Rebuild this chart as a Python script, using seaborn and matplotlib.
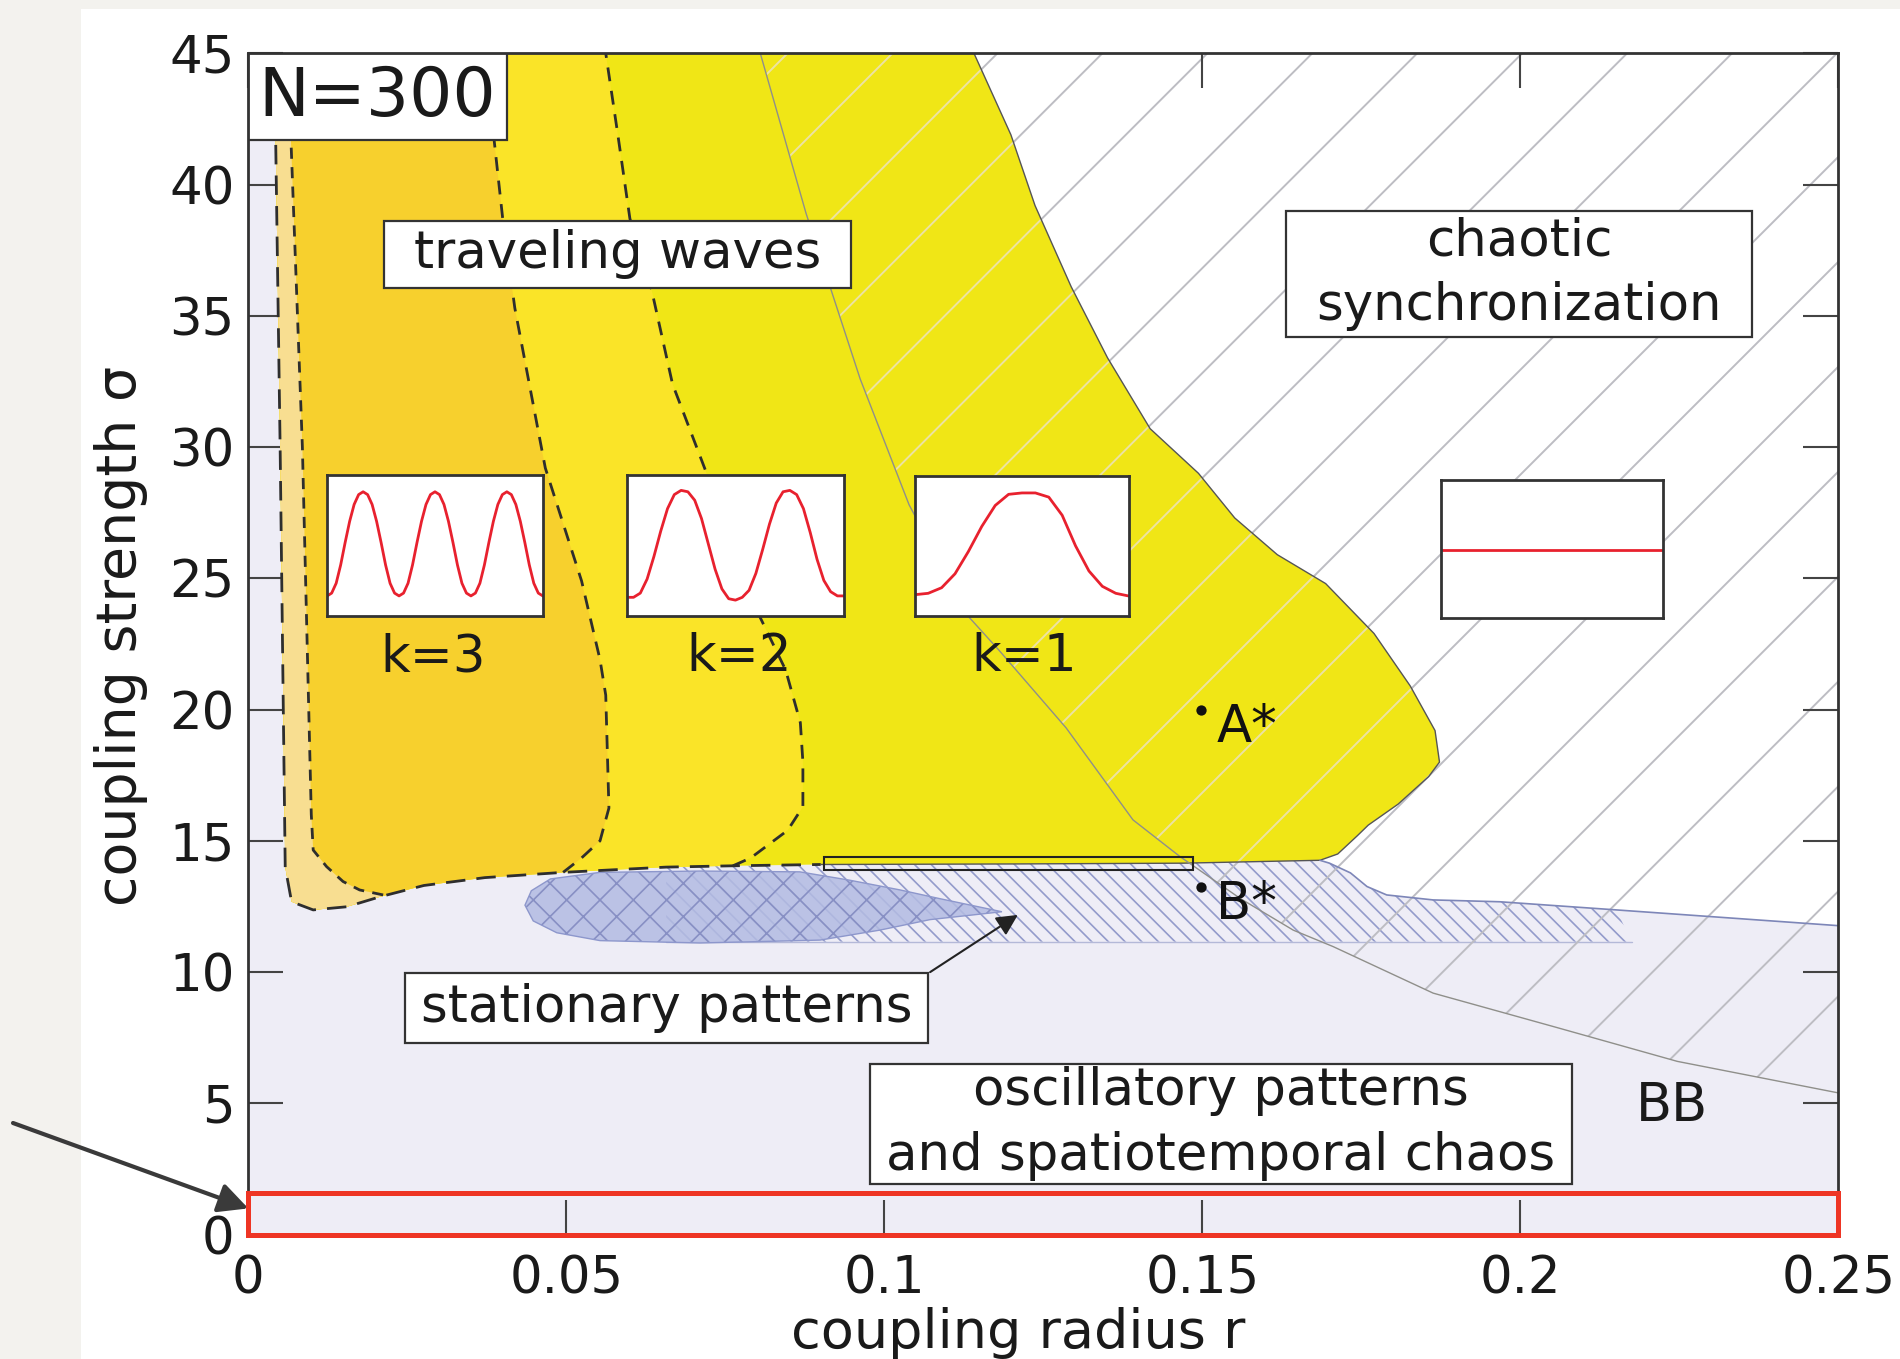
import numpy as np
import matplotlib
matplotlib.use("Agg")
import matplotlib.pyplot as plt
import seaborn as sns
from matplotlib.patches import Polygon, Rectangle
from matplotlib.collections import LineCollection

# -----------------------------------------------------------
# Region boundaries: (coupling radius r, coupling strength sigma)
# -----------------------------------------------------------
# left edge of the wave region (long dashes)
left_r = [0.0043, 0.0043, 0.0050, 0.0055, 0.0058, 0.0068]
left_s = [45.0, 41.7, 30.0, 20.0, 14.0, 12.68]
# lower edge of the wave region
bottom_r = [0.0068, 0.0102, 0.0155, 0.0207, 0.0276, 0.0372, 0.0495,
            0.0657, 0.0762, 0.09, 0.12, 0.147, 0.1685]
bottom_s = [12.68, 12.37, 12.49, 12.87, 13.3, 13.6, 13.8,
            14.0, 14.05, 14.1, 14.12, 14.15, 14.26]
# right edge of the k=1 region
right_r = [0.1685, 0.1713, 0.1744, 0.1761, 0.1808, 0.1856, 0.1873, 0.1866,
           0.1827, 0.177, 0.1694, 0.1618, 0.1551, 0.1494, 0.1418, 0.1351,
           0.1294, 0.1237, 0.1199, 0.1141]
right_s = [14.26, 14.5, 15.2, 15.6, 16.4, 17.45, 18.0, 19.2,
           20.9, 22.9, 24.8, 25.9, 27.3, 29.0, 30.7, 33.4,
           36.1, 39.2, 41.9, 45.0]
# k=2 / k=1 border
k21_r = [0.0762, 0.079, 0.0848, 0.0872, 0.0872, 0.0868, 0.0845, 0.0805,
         0.0719, 0.0667, 0.0634, 0.060, 0.0581, 0.0562]
k21_s = [14.05, 14.35, 15.4, 16.3, 18.0, 19.5, 21.5, 23.5,
         29.1, 32.4, 36.0, 38.7, 41.9, 45.0]
# k=3 / k=2 border
k32_r = [0.0495, 0.0524, 0.0553, 0.0567, 0.0562, 0.0553, 0.0524, 0.0467,
         0.0419, 0.040, 0.0386, 0.0375]
k32_s = [13.8, 14.35, 15.0, 16.25, 20.55, 21.9, 24.9, 29.2,
         35.3, 38.7, 41.8, 45.0]
# short-dash border of the pale strip
sd_r = [0.0212, 0.0175, 0.0149, 0.0123, 0.0102, 0.0099, 0.0085, 0.0067, 0.0065]
sd_s = [12.94, 13.13, 13.45, 14.02, 14.65, 16.0, 30.0, 41.7, 45.0]
# thin line bounding the synchronized (hatched) region, ends as BB line
thin_r = [0.0805, 0.0877, 0.0962, 0.1039, 0.1134, 0.118, 0.1286, 0.1391,
          0.1465, 0.1560, 0.1643, 0.1706, 0.1863, 0.2056, 0.2247, 0.25]
thin_s = [45.0, 38.9, 32.6, 27.8, 23.5, 22.27, 19.3, 15.8,
          14.4, 12.8, 11.6, 10.97, 9.2, 7.9, 6.6, 5.4]
# lower edge of the chaotic synchronization region
low_r = [0.1685, 0.170, 0.1733, 0.1759, 0.179, 0.1863, 0.1968, 0.2151, 0.25]
low_s = [14.26, 14.15, 13.78, 13.26, 12.94, 12.75, 12.68, 12.37, 11.77]
# stationary band, lower corners
band_low_r = [0.2175, 0.0657]
band_low_s = [11.16, 11.16]
# stationary patterns blob
ell_r = [0.0435, 0.0445, 0.0475, 0.0553, 0.071, 0.0867, 0.0946, 0.1025, 0.1087,
         0.1185, 0.1072, 0.0993, 0.0899, 0.071, 0.0553, 0.0485, 0.0448]
ell_s = [12.55, 13.1, 13.55, 13.8, 13.85, 13.82, 13.5, 13.13, 12.8,
         12.3, 12.0, 11.6, 11.22, 11.11, 11.2, 11.5, 11.95]

# marked points
star_r = [0.1498, 0.1498]
star_s = [20.0, 13.25]
star_lbl = ["A*", "B*"]

# inset profiles (normalised, read at equal spacing)
k3_y = [0.14, 0.16, 0.23, 0.36, 0.52, 0.67, 0.79, 0.86, 0.88, 0.86, 0.79, 0.67, 0.52, 0.36, 0.23, 0.16,
        0.14, 0.16, 0.23, 0.36, 0.52, 0.67, 0.79, 0.86, 0.88, 0.86, 0.79, 0.67, 0.52, 0.36, 0.23, 0.16,
        0.14, 0.16, 0.23, 0.36, 0.52, 0.67, 0.79, 0.86, 0.88, 0.86, 0.79, 0.67, 0.52, 0.36, 0.23, 0.16,
        0.14]
k2_y = [0.13, 0.13, 0.16, 0.26, 0.42, 0.60, 0.76, 0.86, 0.89, 0.88, 0.82, 0.69, 0.51, 0.33, 0.19, 0.12,
        0.11, 0.13, 0.18, 0.30, 0.47, 0.65, 0.80, 0.88, 0.89, 0.86, 0.76, 0.59, 0.40, 0.25, 0.17, 0.14,
        0.14]
k1_y = [0.15, 0.16, 0.20, 0.30, 0.46, 0.64, 0.79, 0.87, 0.88, 0.88, 0.85, 0.72, 0.50, 0.32, 0.21, 0.16,
        0.14]
sync_y = [0.49, 0.49]

xticks = [0, 0.05, 0.1, 0.15, 0.2, 0.25]
xtick_lbl = ["0", "0.05", "0.1", "0.15", "0.2", "0.25"]
yticks = [0, 5, 10, 15, 20, 25, 30, 35, 40, 45]

LAV = '#eeedf6'
Y1, Y2, Y3, YP = '#f0e616', '#fae428', '#f7d02d', '#f8de91'

# -----------------------------------------------------------
# Figure
# -----------------------------------------------------------
sns.set_theme(style="white")
plt.rcParams['font.family'] = ['DejaVu Sans']
plt.rcParams['hatch.linewidth'] = 1.2

fig = plt.figure(figsize=(19, 13.59), dpi=100, facecolor='#f3f2ee')
fig.add_artist(Rectangle((81 / 1900, 0), 1, 1 - 9 / 1359, transform=fig.transFigure,
                         facecolor='white', edgecolor='none', zorder=-1))
ax = fig.add_axes([0.1307, 0.0915, 0.8368, 0.8693])
ax.set_xlim(0, 0.25)
ax.set_ylim(0, 45)
ax.set_facecolor(LAV)


def poly(r, s, z, **kw):
    p = Polygon(np.column_stack([r, s]), closed=True, zorder=z, **kw)
    ax.add_patch(p)
    return p


# white chaotic-sync area
poly([0.10, 0.25] + low_r[::-1] + [0.10], [45, 45] + low_s[::-1] + [14.26], 1,
     facecolor='white', edgecolor='none')

# stationary band (hatched)
band_r = bottom_r[7:] + low_r[1:8] + band_low_r
band_s = bottom_s[7:] + low_s[1:8] + band_low_s
poly(band_r, band_s, 2, facecolor='none', edgecolor='#939bcb', lw=0, hatch='\\\\')
ax.plot(band_low_r, band_low_s, color='#b4b9d8', lw=1, zorder=2)

# wide '/' hatching of the synchronized region
hatch_segs = [[(c, 0), (c + 45 / 242.2, 45)] for c in np.arange(-0.2, 0.26, 0.0165)]
gray_clip = poly(thin_r + [0.25], thin_s + [45], 0, facecolor='none', edgecolor='none')
lc = LineCollection(hatch_segs, colors='#bdbdc3', linewidths=1.4, zorder=2.5)
ax.add_collection(lc)
lc.set_clip_path(gray_clip)

# stationary patterns blob
poly(ell_r, ell_s, 3, facecolor='#b3bbe2', edgecolor='none', alpha=0.85)
poly(ell_r, ell_s, 3.1, facecolor='none', edgecolor='#8890c4', lw=0, hatch='x')
poly(ell_r, ell_s, 3.2, facecolor='none', edgecolor='#8d97cc', lw=1)

# traveling wave regions
poly(left_r + bottom_r[1:] + right_r[1:], left_s + bottom_s[1:] + right_s[1:], 4,
     facecolor=Y1, edgecolor='none')
poly(left_r + bottom_r[1:8] + k21_r, left_s + bottom_s[1:8] + k21_s, 4.1,
     facecolor=Y2, edgecolor='none')
poly(left_r + bottom_r[1:6] + k32_r, left_s + bottom_s[1:6] + k32_s, 4.2,
     facecolor=Y3, edgecolor='none')
poly(left_r + bottom_r[1:4] + sd_r, left_s + bottom_s[1:4] + sd_s, 4.3,
     facecolor=YP, edgecolor='none')

# pale hatch lines on the yellow part of the synchronized region
yel_clip = poly(thin_r[:9] + bottom_r[11:] + right_r[1:],
                thin_s[:9] + bottom_s[11:] + right_s[1:], 0,
                facecolor='none', edgecolor='none')
lc2 = LineCollection(hatch_segs, colors='#ece2a4', linewidths=1.4, zorder=4.5)
ax.add_collection(lc2)
lc2.set_clip_path(yel_clip)

# boundary lines
ax.plot(left_r + bottom_r[1:10], left_s + bottom_s[1:10], color='#2e2e2e', lw=2.0,
        dashes=(7, 4), zorder=5)
ax.plot(sd_r, sd_s, color='#2e2e2e', lw=2.0, dashes=(4, 3), zorder=5)
ax.plot(k32_r, k32_s, color='#2e2e2e', lw=2.0, dashes=(5, 3.5), zorder=5)
ax.plot(k21_r, k21_s, color='#2e2e2e', lw=2.0, dashes=(5, 3.5), zorder=5)
ax.plot(bottom_r[9:] + right_r[1:], bottom_s[9:] + right_s[1:], color='#555555',
        lw=1.0, zorder=5)
sns.lineplot(x=thin_r, y=thin_s, sort=False, estimator=None, color='#8f8f8a',
             lw=1.0, ax=ax, zorder=5)
sns.lineplot(x=low_r, y=low_s, sort=False, estimator=None, color='#7d86b8',
             lw=1.2, ax=ax, zorder=5)

# small rectangle, marked points
ax.add_patch(Rectangle((0.0905, 13.9), 0.0581, 0.5, fill=False, edgecolor='#222222',
                       lw=1.5, zorder=6))
ax.scatter(star_r, star_s, s=55, color='#111111', zorder=7, linewidths=0)
for r, s, t in zip(star_r, star_s, star_lbl):
    ax.text(r + 0.0072, s - 0.7, t, fontsize=37, ha='center', va='center',
            color='#111111', zorder=7)

# text boxes
boxes = [
    ("N=300", 0.0, 41.7, 0.0406, 3.3, 49),
    ("traveling waves", 0.0213, 36.05, 0.0734, 2.58, 37),
    ("chaotic\nsynchronization", 0.1631, 34.2, 0.0734, 4.8, 37),
    ("stationary patterns", 0.0246, 7.29, 0.0823, 2.68, 37),
    ("oscillatory patterns\nand spatiotemporal chaos", 0.0978, 1.94, 0.1103, 4.56, 37),
]
for txt, x0, y0, w, h, fs in boxes:
    ax.add_patch(Rectangle((x0, y0), w, h, facecolor='white', edgecolor='#333333',
                           lw=1.6, zorder=8))
    ax.text(x0 + w / 2, y0 + h / 2, txt, fontsize=fs, ha='center', va='center',
            linespacing=1.38, color='#1a1a1a', zorder=9)

for t, r in [("k=3", 0.029), ("k=2", 0.0772), ("k=1", 0.122)]:
    ax.text(r, 22.0, t, fontsize=37, ha='center', va='center', color='#1a1a1a', zorder=7)
ax.text(0.2239, 4.9, "BB", fontsize=38, ha='center', va='center', color='#1a1a1a', zorder=7)

ax.annotate('', xy=(0.121, 12.18), xytext=(0.1072, 10.0),
            arrowprops=dict(arrowstyle='-|>', color='#222222', lw=1.5,
                            mutation_scale=32, shrinkA=0, shrinkB=0), zorder=9)

# inset profiles
insets = [
    ([0.0124, 23.58, 0.0339, 5.36], k3_y),
    ([0.0595, 23.58, 0.0342, 5.36], k2_y),
    ([0.1048, 23.58, 0.0337, 5.31], k1_y),
    ([0.1875, 23.49, 0.0349, 5.26], sync_y),
]
for bounds, prof in insets:
    iax = ax.inset_axes(bounds, transform=ax.transData, zorder=8)
    sns.lineplot(x=np.linspace(0, 1, len(prof)), y=prof, color='#e8212e', lw=2.0,
                 ax=iax, sort=False, estimator=None)
    iax.set_xlim(0, 1)
    iax.set_ylim(0, 1)
    iax.set_xticks([])
    iax.set_yticks([])
    iax.set_xlabel('')
    iax.set_ylabel('')
    iax.set_facecolor('white')
    for sp in iax.spines.values():
        sp.set_visible(True)
        sp.set_color('#333333')
        sp.set_linewidth(2.0)

# axes styling
for sp in ax.spines.values():
    sp.set_visible(True)
    sp.set_color('#333333')
    sp.set_linewidth(2.0)
    sp.set_zorder(10)
ax.set_xticks(xticks, xtick_lbl)
ax.set_yticks(yticks, [str(v) for v in yticks])
ax.tick_params(axis='both', direction='in', length=25, width=1.5, color='#444444',
               bottom=True, left=True, top=True, right=True,
               labelsize=37, labelcolor='#1a1a1a')
ax.tick_params(axis='x', pad=14)
ax.tick_params(axis='y', pad=10)
ax.xaxis.set_zorder(3.5)
ax.yaxis.set_zorder(3.5)
ax.set_xlabel("coupling radius r", fontsize=39, color='#1a1a1a')
ax.set_ylabel("coupling strength σ", fontsize=40, color='#1a1a1a')
ax.xaxis.set_label_coords(0.484, -0.061)
ax.yaxis.set_label_coords(-0.063, 0.507)
ax.grid(False)

# highlighted strip and pointer
ax.add_patch(Rectangle((0, 0), 0.25, 1.58, fill=False, edgecolor='#ee3524', lw=3.6,
                       clip_on=False, zorder=20))
ax.annotate('', xy=(0, 1.0), xycoords='data', xytext=(13, 1359 - 1123),
            textcoords='figure pixels', annotation_clip=False,
            arrowprops=dict(arrowstyle='-|>', color='#3a3a3a', lw=3,
                            mutation_scale=45, shrinkA=0, shrinkB=0))

fig.savefig('out.png', dpi=100, facecolor=fig.get_facecolor())
